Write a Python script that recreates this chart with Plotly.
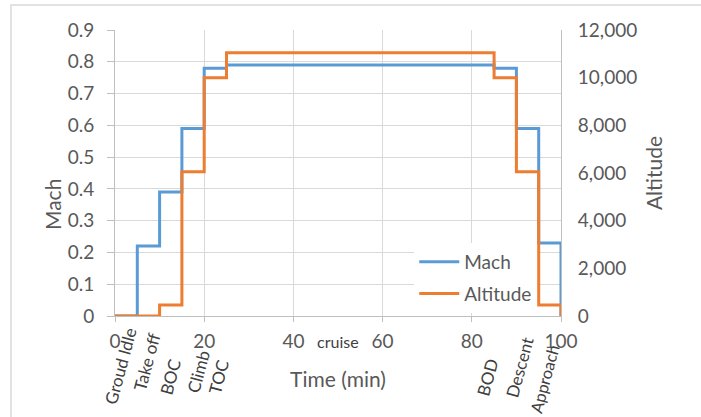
import plotly.graph_objects as go

# ---- data ----
mach_time = [0, 5, 10, 15, 20, 25, 85, 90, 95, 100]
mach_vals = [0, 0.22, 0.39, 0.59, 0.78, 0.79, 0.78, 0.59, 0.23, 0]
alt_time = [0, 10, 15, 20, 25, 85, 90, 95, 100]
alt_vals = [0, 460, 6050, 10000, 11050, 10000, 6050, 460, 0]

phase_labels = ["Groud Idle", "Take off", "BOC", "Climb", "TOC", "cruise", "BOD", "Descent", "Approach"]
phase_x = [1.1, 7.0, 12.3, 18.6, 23.1, 50.0, 83.4, 90.6, 96.4]

mach_ticks = [0, 0.1, 0.2, 0.3, 0.4, 0.5, 0.6, 0.7, 0.8, 0.9]
alt_ticks = [0, 2000, 4000, 6000, 8000, 10000, 12000]
time_ticks = [0, 20, 40, 60, 80, 100]

# ---- styling ----
label_yshift = [-50, -46, -61, -55, -61, -25, -61, -51, -63]
label_angle = [-75, -75, -75, -75, -75, 0, -75, -75, -75]
label_size = [17, 17, 17, 17, 17, 16, 17, 17, 16.5]

FONT = "Lato"
TICK_COLOR = "#595959"
GRID = "#D9D9D9"
BLUE = "#5B9BD5"
ORANGE = "#ED7D31"

fig = go.Figure()
fig.add_trace(go.Scatter(x=mach_time, y=mach_vals, name="Mach", mode="lines", legendgroup="a",
                         line=dict(color=BLUE, width=3, shape="hv"), yaxis="y"))
fig.add_trace(go.Scatter(x=alt_time, y=alt_vals, name="Altitude", mode="lines", legendgroup="b",
                         line=dict(color=ORANGE, width=3, shape="hv"), yaxis="y2"))

for txt, xv, ys, ang, fs in zip(phase_labels, phase_x, label_yshift, label_angle, label_size):
    fig.add_annotation(x=xv, y=0, xref="x", yref="paper", text=txt, showarrow=False,
                       textangle=ang, xanchor="center", yanchor="middle", yshift=ys,
                       font=dict(family=FONT, size=fs, color="#404040"))

# left axis title placed as text
fig.add_annotation(x=(52 - 115) / 446, y=(316 - 205) / 286, xref="paper", yref="paper",
                   text="Mach", showarrow=False, textangle=-90, xanchor="center", yanchor="middle",
                   font=dict(family=FONT, size=21, color=TICK_COLOR))

# chart frame
fig.add_shape(type="rect", xref="paper", yref="paper",
              x0=(11 - 115) / 446, x1=(706 - 115) / 446,
              y0=(316 - 422) / 286, y1=(316 - 5) / 286,
              line=dict(color="#D9D9D9", width=1.5), fillcolor="rgba(0,0,0,0)", layer="above")

fig.update_layout(
    width=701, height=417,
    margin=dict(l=115, r=140, t=30, b=101, autoexpand=False),
    paper_bgcolor="white", plot_bgcolor="white",
    font=dict(family=FONT, color=TICK_COLOR, size=19),
    showlegend=True,
    legend=dict(x=0.671, y=0.133, xanchor="left", yanchor="middle",
                bgcolor="white", font=dict(family=FONT, size=19, color=TICK_COLOR),
                tracegroupgap=4, itemwidth=40),
    xaxis=dict(range=[0, 100], tickvals=time_ticks, showgrid=True, gridcolor=GRID, gridwidth=1,
               showline=True, linecolor="#BFBFBF", linewidth=1, ticks="outside", ticklen=5,
               tickcolor="#BFBFBF", zeroline=False, ticklabelstandoff=3,
               title=dict(text="Time (min)", font=dict(size=21, color=TICK_COLOR), standoff=21),
               tickfont=dict(size=19, color=TICK_COLOR)),
    yaxis=dict(range=[0, 0.9], tickvals=mach_ticks, ticktext=[f"{v:g}" for v in mach_ticks],
               showgrid=True, gridcolor=GRID, gridwidth=1, zeroline=False,
               showline=True, linecolor="#BFBFBF", linewidth=1, ticks="outside", ticklen=7,
               tickcolor="#BFBFBF", ticklabelstandoff=9,
               tickfont=dict(size=19, color=TICK_COLOR)),
    yaxis2=dict(range=[0, 12000], tickvals=alt_ticks, tickformat=",d", overlaying="y", side="right",
                showgrid=False, zeroline=False, showline=True, linecolor="#BFBFBF", linewidth=1,
                ticks="", ticklabelstandoff=12,
                title=dict(text="Altitude", font=dict(size=21, color=TICK_COLOR), standoff=11),
                tickfont=dict(size=19, color=TICK_COLOR)),
)

fig.write_html("out.html", config={"displayModeBar": False},
               post_script="document.body.style.margin='0';document.body.style.overflow='hidden';")
